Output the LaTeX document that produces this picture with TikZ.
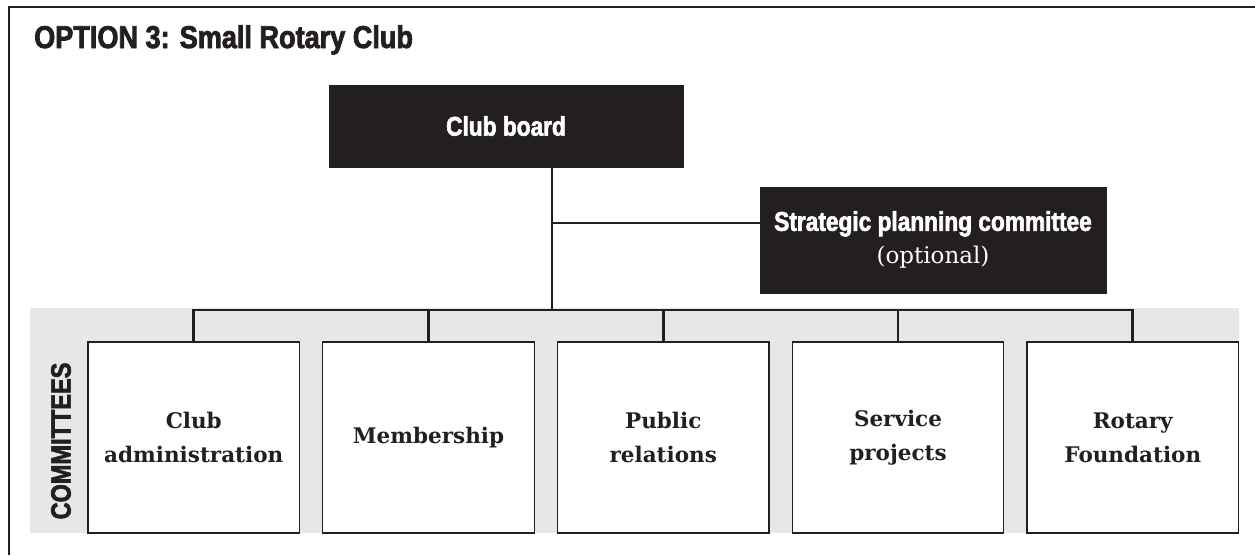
\documentclass[tikz,border=0pt]{standalone}
\usepackage{fontspec}
\newfontfamily\condbold[FakeStretch=0.84,FakeBold=2.2]{Liberation Sans Bold}
\newfontfamily\titlebold[FakeStretch=0.86,FakeBold=2.4]{Liberation Sans Bold}
\newfontfamily\serifbold{DejaVu Serif Bold}
\newfontfamily\serifreg{DejaVu Serif}
\definecolor{ink}{HTML}{231F20}
\definecolor{band}{HTML}{E6E7E8}
\tikzset{
  darkbox/.style={fill=ink, draw=ink, text=white, inner sep=0pt, align=center},
  combox/.style={draw=ink, line width=1.4pt, fill=white, minimum width=211.5pt, minimum height=191pt, inner sep=0pt, align=center, text=ink,
     font=\serifbold\fontsize{21.5}{34}\selectfont},
  conn/.style={draw=ink, line width=2.9pt},
}
\begin{document}
\begin{tikzpicture}[x=1pt,y=-1pt]
\useasboundingbox (0,0) rectangle (1255,555);
% frame
\draw[ink, line width=2.9pt] (9,555) -- (9,7) -- (1255,7);
% title
\node[anchor=base west, inner sep=0pt, text=ink, font=\titlebold\fontsize{31.5}{34}\selectfont] (title) at (34,48) {OPTION 3: Small Rotary Club};
% gray band
\fill[band] (30,308) rectangle (1239,533);
% board
\node[darkbox, minimum width=354pt, minimum height=82pt, font=\condbold\fontsize{27}{30}\selectfont] (board) at (506,126) {Club board};
% strategic
\node[darkbox, minimum width=346pt, minimum height=106pt] (strat) at (933,240)
  {{\condbold\fontsize{27}{30}\selectfont Strategic planning committee}\\[9pt]
   {\serifreg\fontsize{23}{26}\selectfont (optional)}};
% committees
\node[combox] (c1) at (193.75,437.5) {Club\\administration};
\node[combox] (c2) at (428.5,437.5) {Membership};
\node[combox] (c3) at (663.25,437.5) {Public\\relations};
\node[combox] (c4) at (898,437.5) {Service\\projects};
\node[combox] (c5) at (1132.75,437.5) {Rotary\\Foundation};
\node[rotate=90, inner sep=0pt, text=ink, font=\condbold\fontsize{28}{30}\selectfont] (clabel) at (61,441) {COMMITTEES};
% connectors
\coordinate (j) at (552,310);
\coordinate (sj) at (552,223);
\draw[conn] (board.south -| j) -- (j);
\draw[conn] (sj) -- (strat.west |- sj);
\draw[conn, line join=miter] (c1.north) |- (c5.north |- j) -- (c5.north);
\draw[conn] (c2.north) -- (c2.north |- j);
\draw[conn] (c3.north) -- (c3.north |- j);
\draw[conn] (c4.north) -- (c4.north |- j);
\end{tikzpicture}
\end{document}
